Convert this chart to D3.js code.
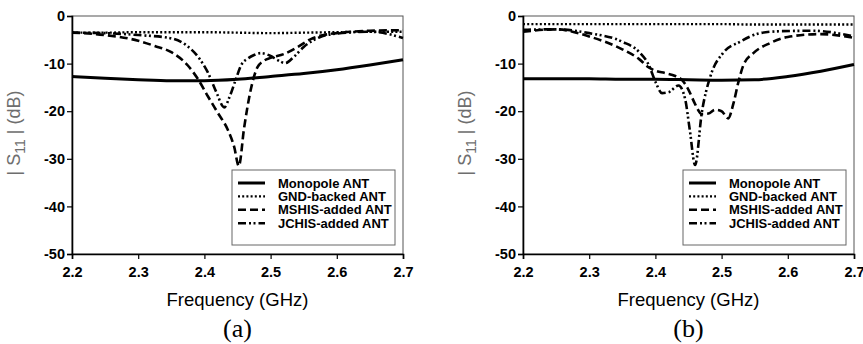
<!DOCTYPE html>
<html>
<head>
<meta charset="utf-8">
<script src="https://cdn.jsdelivr.net/npm/d3@7"></script>
<style>
  body { margin: 0; background: #fff; }
  svg { display: block; }
  .tick text { font-family: Arial, "Liberation Sans", sans-serif; font-weight: bold; font-size: 14.5px; }
</style>
</head>
<body>
<div id="chart"></div>
<script>
// frequency ticks and dB ticks
const xTicks = [2.2, 2.3, 2.4, 2.5, 2.6, 2.7];
const yTicks = [0, -10, -20, -30, -40, -50];
const seriesNames = ["Monopole ANT", "GND-backed ANT", "MSHIS-added ANT", "JCHIS-added ANT"];

// panel (a)
const freqStep = [2.2, 2.25, 2.3, 2.35, 2.4, 2.45, 2.5, 2.55, 2.6, 2.65, 2.7];
const monoA = [-12.7, -13.1, -13.4, -13.6, -13.6, -13.3, -12.7, -12.1, -11.3, -10.3, -9.2];
const gndA = [-3.5, -3.5, -3.4, -3.4, -3.4, -3.5, -3.6, -3.5, -3.4, -3.3, -3.3];
const mshisFreqA = [2.2, 2.25, 2.3, 2.325, 2.35, 2.375, 2.39, 2.405, 2.42, 2.435, 2.445, 2.452, 2.46, 2.47, 2.48, 2.49, 2.5, 2.52, 2.54, 2.56, 2.58, 2.6, 2.65, 2.7];
const mshisA = [-3.5, -4.0, -5.2, -6.3, -7.6, -10.4, -13.2, -16.8, -20.3, -23.8, -27.5, -31.5, -23.5, -15.5, -10.8, -9.4, -8.8, -8.0, -6.6, -4.9, -4.0, -3.6, -3.1, -3.0];
const jchisFreqA = [2.2, 2.25, 2.3, 2.35, 2.375, 2.39, 2.405, 2.418, 2.43, 2.438, 2.447, 2.456, 2.465, 2.475, 2.485, 2.5, 2.51, 2.522, 2.535, 2.55, 2.575, 2.6, 2.65, 2.7];
const jchisA = [-3.5, -3.6, -4.0, -4.7, -6.4, -8.5, -11.8, -16.0, -19.2, -17.0, -13.5, -10.2, -9.0, -8.2, -7.8, -8.4, -9.2, -9.9, -8.6, -6.5, -4.4, -3.7, -3.3, -4.6];

// panel (b)
const monoB = [-13.2, -13.2, -13.2, -13.3, -13.3, -13.4, -13.5, -13.4, -12.7, -11.6, -10.2];
const gndB = [-1.7, -1.7, -1.7, -1.7, -1.7, -1.7, -1.7, -1.8, -1.8, -1.8, -1.8];
const mshisFreqB = [2.2, 2.25, 2.3, 2.35, 2.375, 2.39, 2.4, 2.415, 2.43, 2.44, 2.45, 2.46, 2.47, 2.48, 2.49, 2.5, 2.51, 2.518, 2.525, 2.533, 2.548, 2.573, 2.6, 2.65, 2.7];
const mshisB = [-3.3, -2.8, -4.3, -7.0, -9.0, -10.8, -11.5, -12.0, -12.6, -13.4, -15.5, -18.5, -20.6, -20.5, -19.7, -20.0, -21.5, -18.3, -14.1, -10.3, -7.8, -5.7, -4.4, -3.8, -4.6];
const jchisFreqB = [2.2, 2.25, 2.3, 2.35, 2.375, 2.39, 2.4, 2.41, 2.42, 2.435, 2.445, 2.452, 2.46, 2.47, 2.483, 2.502, 2.528, 2.558, 2.588, 2.638, 2.7];
const jchisB = [-2.9, -2.8, -3.6, -5.4, -7.5, -10.3, -13.8, -16.2, -16.0, -14.6, -17.5, -24.0, -31.3, -20.4, -12.7, -7.8, -5.4, -3.6, -3.2, -3.1, -4.3];

const styles = [
  { width: 3, dash: null },
  { width: 2.4, dash: "2,2.2" },
  { width: 2.6, dash: "8,4" },
  { width: 2.6, dash: "8,3,2,2.5,2,3" }
];

const W = 863, H = 344;
const svg = d3.select("#chart").append("svg")
  .attr("width", W).attr("height", H);

const pw = 331, ph = 238, plotTop = 16;

function zip(fs, vs) {
  return fs.map((f, i) => ({ f: f, v: vs[i] }));
}

function drawPanel(left, data, tag) {
  const x = d3.scaleLinear().domain([2.2, 2.7]).range([0, pw]);
  const y = d3.scaleLinear().domain([-50, 0]).range([ph, 0]);
  const g = svg.append("g").attr("transform", "translate(" + left + "," + plotTop + ")");

  // frame
  g.append("rect").attr("width", pw).attr("height", ph)
    .attr("fill", "none").attr("stroke", "#555").attr("stroke-width", 1);

  const line = d3.line()
    .x(d => x(d.f)).y(d => y(d.v))
    .curve(d3.curveMonotoneX);

  data.forEach((d, i) => {
    g.append("path")
      .datum(d)
      .attr("d", line)
      .attr("fill", "none")
      .attr("stroke", "#000")
      .attr("stroke-width", styles[i].width)
      .attr("stroke-dasharray", styles[i].dash);
  });

  const xAxis = g.append("g")
    .attr("transform", "translate(0," + ph + ")")
    .call(d3.axisBottom(x).tickValues(xTicks).tickFormat(d3.format(".1f")).tickSize(5).tickPadding(8));
  const yAxis = g.append("g")
    .call(d3.axisLeft(y).tickValues(yTicks).tickFormat(d => d).tickSize(5).tickPadding(2));
  [xAxis, yAxis].forEach(a => {
    a.select(".domain").attr("stroke", "#000").attr("stroke-width", 1.6);
    a.selectAll(".tick line").attr("stroke", "#000").attr("stroke-width", 1.2);
    a.selectAll(".tick text").attr("fill", "#000");
  });

  // legend
  const lg = g.append("g").attr("transform", "translate(" + (pw - 171) + ",154)");
  lg.append("rect").attr("width", 163).attr("height", 75)
    .attr("fill", "#fff").attr("stroke", "#666").attr("stroke-width", 1);
  seriesNames.forEach((name, i) => {
    const ry = 13 + i * 13.4;
    lg.append("line")
      .attr("x1", 6).attr("x2", 33).attr("y1", ry).attr("y2", ry)
      .attr("stroke", "#000")
      .attr("stroke-width", styles[i].width)
      .attr("stroke-dasharray", styles[i].dash);
    lg.append("text")
      .attr("x", 46).attr("y", ry + 4.5)
      .attr("font-family", "Arial, 'Liberation Sans', sans-serif")
      .attr("font-weight", "bold").attr("font-size", 13)
      .text(name);
  });

  // y label
  const yl = svg.append("text")
    .attr("transform", "translate(" + (left - 52) + "," + (plotTop + ph / 2 - 2) + ") rotate(-90)")
    .attr("text-anchor", "middle")
    .attr("font-family", "Arial, 'Liberation Sans', sans-serif")
    .attr("font-size", 18).attr("fill", "#6e6e6e");
  yl.append("tspan").text("| S");
  yl.append("tspan").attr("font-size", 14).attr("dy", 5).text("11");
  yl.append("tspan").attr("dy", -5).text(" | (dB)");

  // x label
  svg.append("text")
    .attr("x", left + pw / 2).attr("y", 306)
    .attr("text-anchor", "middle")
    .attr("font-family", "Arial, 'Liberation Sans', sans-serif")
    .attr("font-size", 18.5)
    .text("Frequency (GHz)");

  svg.append("text")
    .attr("x", left + pw / 2).attr("y", 337)
    .attr("text-anchor", "middle")
    .attr("font-family", "'Liberation Serif', 'Times New Roman', serif")
    .attr("font-size", 26)
    .text(tag);
}

drawPanel(72, [
  zip(freqStep, monoA), zip(freqStep, gndA),
  zip(mshisFreqA, mshisA), zip(jchisFreqA, jchisA)
], "(a)");

drawPanel(523, [
  zip(freqStep, monoB), zip(freqStep, gndB),
  zip(mshisFreqB, mshisB), zip(jchisFreqB, jchisB)
], "(b)");
</script>
</body>
</html>
